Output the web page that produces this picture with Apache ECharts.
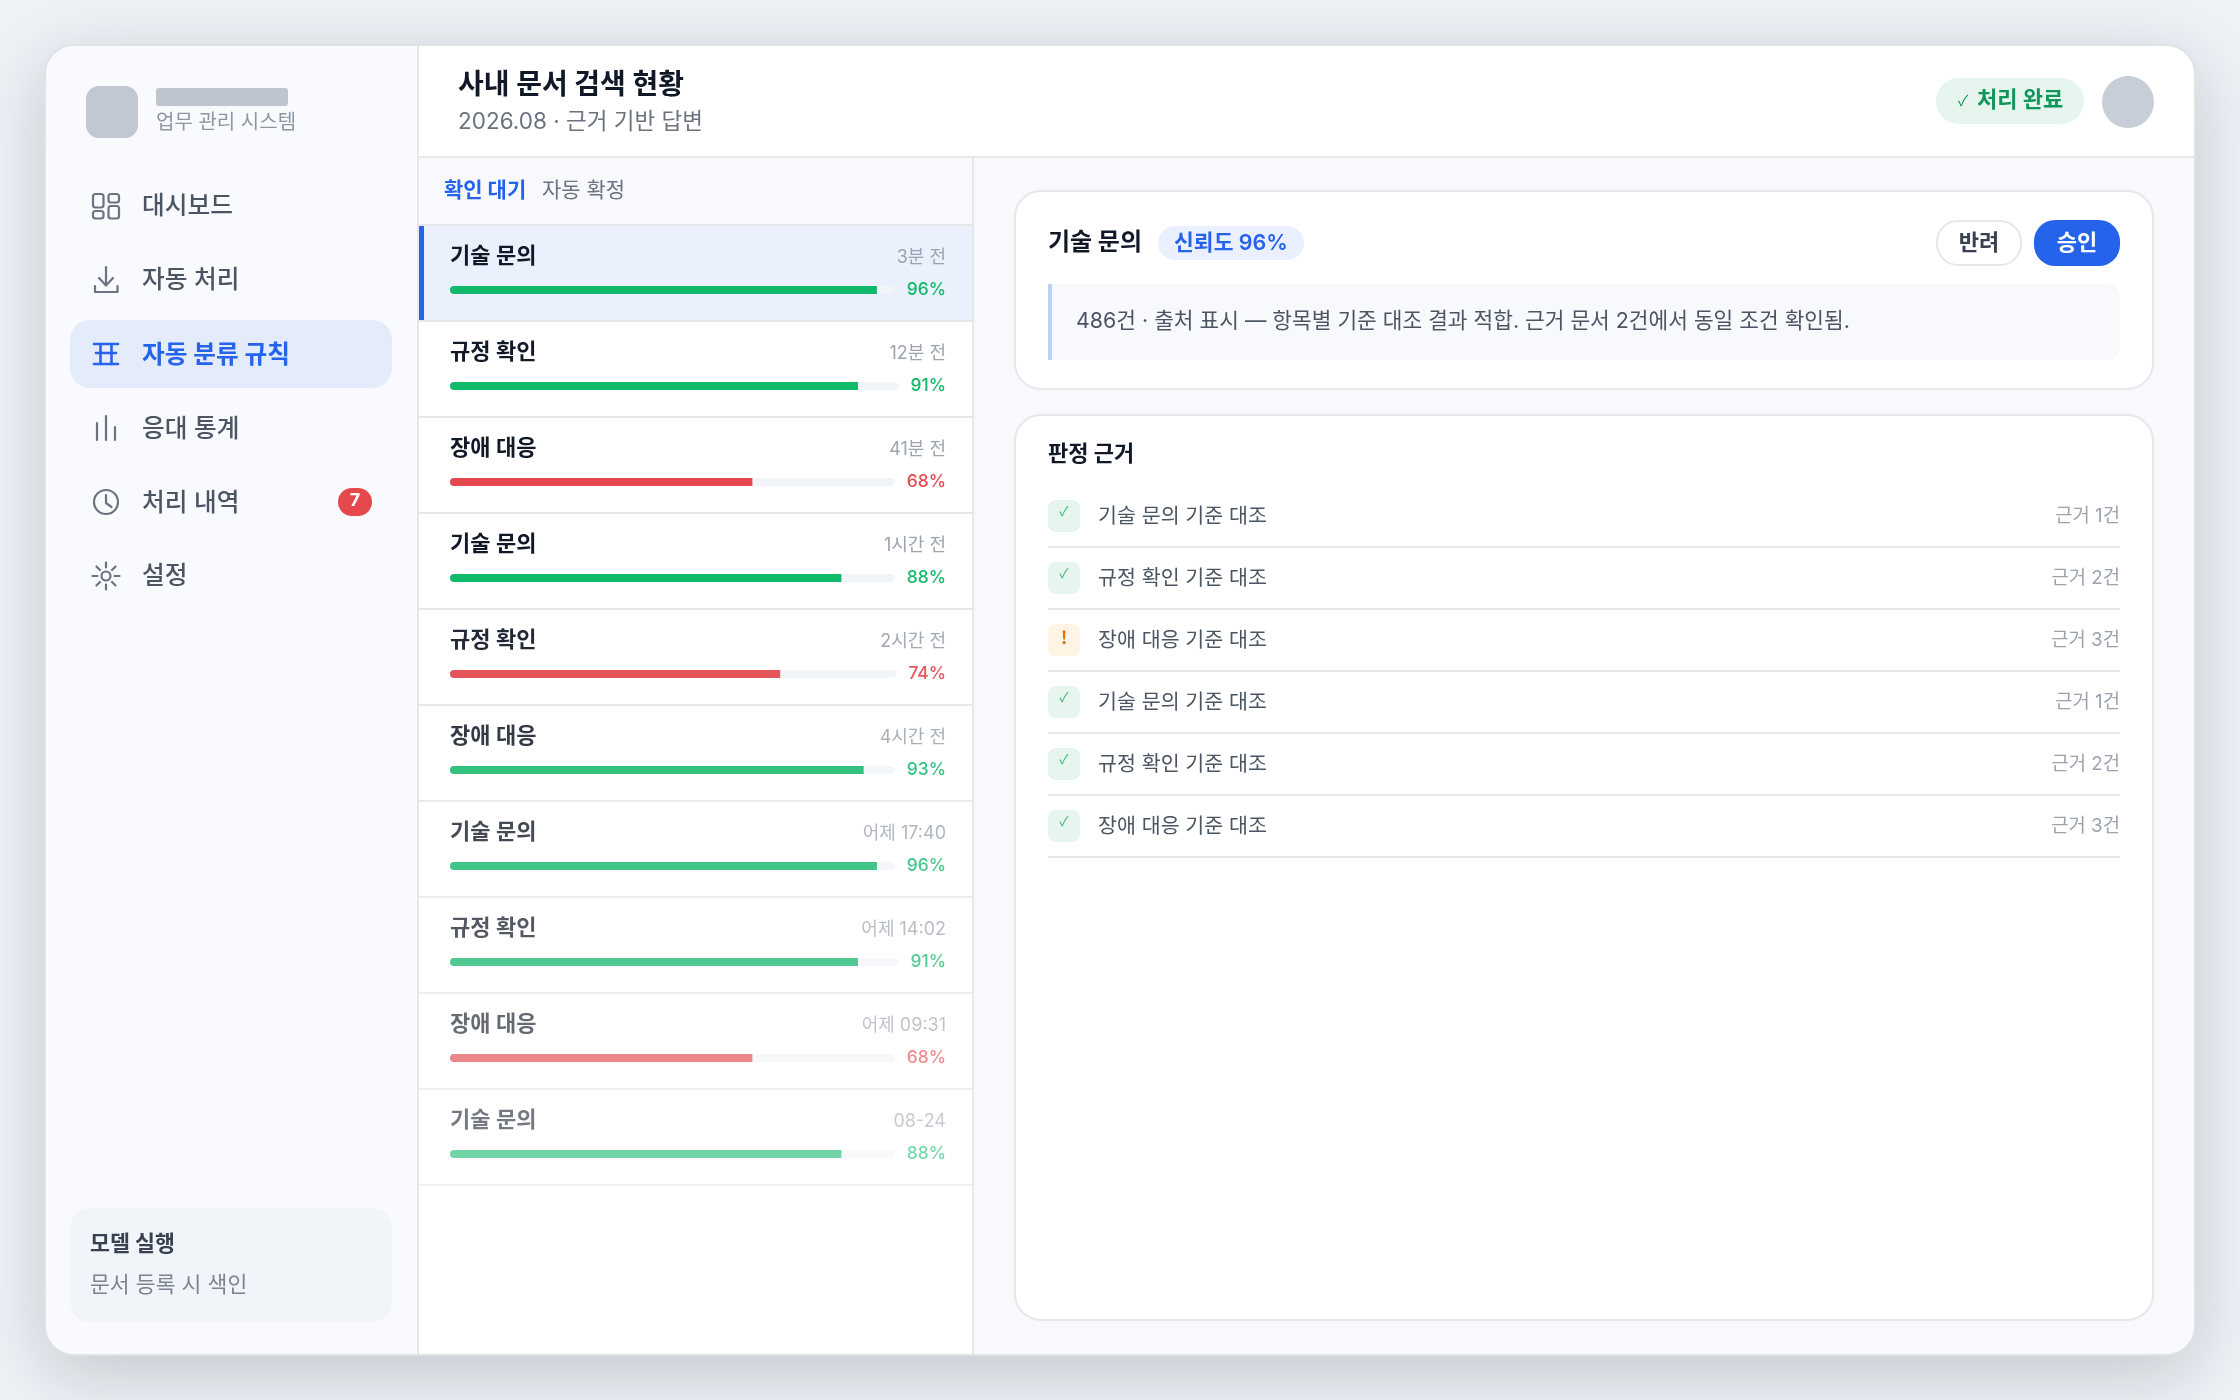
<!DOCTYPE html>
<html lang="ko">
<head>
<meta charset="utf-8">
<title>사내 문서 검색 현황</title>
<script src="https://cdn.jsdelivr.net/npm/echarts@6/dist/echarts.min.js"></script>
<style>
	html, body { margin: 0; padding: 0; background: #eef1f6; }
	#main { width: 2240px; height: 1400px; }
</style>
</head>
<body>
<div id="main"></div>
<script>
var navLabels = ['대시보드', '자동 처리', '자동 분류 규칙', '응대 통계', '처리 내역', '설정']
var rowTitles = ['기술 문의', '규정 확인', '장애 대응', '기술 문의', '규정 확인', '장애 대응', '기술 문의', '규정 확인', '장애 대응', '기술 문의']
var rowTimes = ['3분 전', '12분 전', '41분 전', '1시간 전', '2시간 전', '4시간 전', '어제 17:40', '어제 14:02', '어제 09:31', '08-24']
var rowScores = [96, 91, 68, 88, 74, 93, 96, 91, 68, 88]
var rowLevels = ['ok', 'ok', 'bad', 'ok', 'bad', 'ok', 'ok', 'ok', 'bad', 'ok']
var checkLabels = ['기술 문의 기준 대조', '규정 확인 기준 대조', '장애 대응 기준 대조', '기술 문의 기준 대조', '규정 확인 기준 대조', '장애 대응 기준 대조']
var checkCounts = ['근거 1건', '근거 2건', '근거 3건', '근거 1건', '근거 2건', '근거 3건']
var checkMarks = ['✓', '✓', '!', '✓', '✓', '✓']

var FONT = 'Inter, "Noto Sans CJK KR", sans-serif'
var FONT_KO = '"Noto Sans CJK KR", sans-serif'
var BLUE = '#2563eb', GREEN = '#10b96a', RED = '#e5484d', LINE = '#e5e7eb'
var NAV_GREY = '#6b7280'

var g = []

function box(x, y, w, h, fill, r, extra) {
	g.push({
		type: 'rect', silent: true,
		shape: { x: x, y: y, width: w, height: h, r: r || 0 },
		style: Object.assign({ fill: fill }, extra || {})
	})
}
function label(x, y, str, size, color, weight, align, opacity, family) {
	g.push({
		type: 'text', silent: true, x: x, y: y,
		style: {
			text: str, fontFamily: family || FONT, fontSize: size, fontWeight: weight || 400,
			fill: color, align: align || 'left', verticalAlign: 'middle',
			opacity: opacity === undefined ? 1 : opacity
		}
	})
}
function stroke(points, color, width) {
	g.push({
		type: 'polyline', silent: true,
		shape: { points: points },
		style: { fill: null, stroke: color, lineWidth: width || 2.2, lineCap: 'round', lineJoin: 'round' }
	})
}
function outline(x, y, w, h, r, color, width) {
	g.push({
		type: 'rect', silent: true,
		shape: { x: x, y: y, width: w, height: h, r: r },
		style: { fill: null, stroke: color, lineWidth: width || 2.2 }
	})
}
function circle(cx, cy, r, color) {
	g.push({
		type: 'circle', silent: true,
		shape: { cx: cx, cy: cy, r: r },
		style: { fill: null, stroke: color, lineWidth: 2.2 }
	})
}

// 바깥 카드
box(46, 46, 2148, 1308, '#ffffff', 28, { shadowBlur: 70, shadowOffsetY: 18, shadowColor: 'rgba(17,24,39,0.2)' })
outline(45, 45, 2150, 1310, 29, '#dfe3e8', 2)

// 사이드바
box(46, 46, 371, 1308, '#f8fafe', [28, 0, 0, 28])
box(417, 46, 2, 1308, LINE)
box(86, 86, 52, 52, '#c2c8d2', 13)
box(156, 88, 132, 18, '#bfc5cf', 3)
label(156, 123, '업무 관리 시스템', 20, '#8e96a3')

box(70, 320, 322, 68, '#e4ebfa', 20)
var navY = [206.4, 280.4, 355.4, 429.4, 503.4, 576.4]
navLabels.forEach(function (name, i) {
	var active = i === 2
	label(142, navY[i], name, 24.7, active ? BLUE : '#4b5563', active ? 700 : 500)
})

// 내비 아이콘
outline(93, 194, 10.5, 13.5, 2.5, NAV_GREY)
outline(108.5, 194, 10.5, 8.5, 2.5, NAV_GREY)
outline(93, 211, 10.5, 7.5, 2.5, NAV_GREY)
outline(108.5, 206, 10.5, 12.5, 2.5, NAV_GREY)

stroke([[106, 267], [106, 285]], NAV_GREY)
stroke([[99, 278], [106, 285.5], [113, 278]], NAV_GREY)
stroke([[95, 286], [95, 292], [117.5, 292], [117.5, 286]], NAV_GREY)

stroke([[94, 344], [118, 344]], BLUE, 2.6)
stroke([[96, 353], [116, 353]], BLUE, 2.6)
stroke([[94, 364], [118, 364]], BLUE, 2.6)
stroke([[100.5, 344], [100.5, 364]], BLUE, 2.6)
stroke([[111.5, 344], [111.5, 364]], BLUE, 2.6)

stroke([[97, 423], [97, 440]], NAV_GREY)
stroke([[106, 416], [106, 440]], NAV_GREY)
stroke([[115, 427], [115, 440]], NAV_GREY)

circle(106, 502, 12, NAV_GREY)
stroke([[106, 495], [106, 503], [111.5, 507]], NAV_GREY)

circle(106, 576, 4.5, NAV_GREY)
for (var a = 0; a < 8; a++) {
	var t = a * Math.PI / 4
	stroke([[106 + 8.5 * Math.cos(t), 576 + 8.5 * Math.sin(t)], [106 + 13.5 * Math.cos(t), 576 + 13.5 * Math.sin(t)]], NAV_GREY)
}

box(338, 488, 34, 28, RED, 14)
label(355, 501, '7', 18, '#ffffff', 700, 'center')

box(70, 1208, 322, 114, '#f1f4f9', 20)
label(90, 1244, '모델 실행', 21.7, '#374151', 700)
label(90, 1285, '문서 등록 시 색인', 21.6, '#7c8491')

// 헤더
box(419, 46, 1775, 111, '#ffffff', [0, 28, 0, 0])
box(419, 156, 1775, 2, LINE)
label(458, 85.4, '사내 문서 검색 현황', 28, '#111827', 700)
label(458, 122.7, '2026.08 · 근거 기반 답변', 22.5, NAV_GREY)
box(1936, 78, 148, 46, '#e6f5ee', 23)
label(1958, 100, '✓', 15, '#12955a', 400, 'left', 1, FONT_KO)
label(1977, 100, '처리 완료', 22, '#12955a', 700)
g.push({ type: 'circle', silent: true, shape: { cx: 2128, cy: 102, r: 26 }, style: { fill: '#c8ced8' } })

// 목록 패널
box(419, 158, 553, 66, '#f8f9fd')
box(419, 224, 553, 2, LINE)
box(972, 158, 2, 1196, LINE)
label(444, 190.6, '확인 대기', 21, BLUE, 700)
label(542, 190.6, '자동 확정', 21, NAV_GREY)

box(419, 226, 553, 94, '#eaf0fc')
box(419, 226, 5, 96, BLUE)

// 행 투명도: 네 번째 행부터 아래로 갈수록 옅어짐
function rowOpacity(i) {
	return Math.min(1, 1 - 0.07 * (i - 3))
}

var measure = document.createElement('canvas').getContext('2d')
measure.font = '500 17px ' + FONT

var grids = [], xAxes = [], yAxes = [], series = []
rowTitles.forEach(function (title, i) {
	var top = 226 + 96 * i
	var op = rowOpacity(i)
	var color = rowLevels[i] === 'bad' ? RED : GREEN
	var pct = rowScores[i] + '%'
	var trackWidth = 946 - 13 - measure.measureText(pct).width - 450

	g.push({ type: 'rect', silent: true, shape: { x: 419, y: top + 94, width: 553, height: 2 }, style: { fill: LINE, opacity: op } })
	label(450, top + 30, title, 22, '#111827', 600, 'left', op)
	label(946, top + 31.7, rowTimes[i], 18, '#9ca3af', 400, 'right', op)
	label(946, top + 64, pct, 17.4, color, 500, 'right', op)

	grids.push({ left: 450, top: top + 60, width: trackWidth, height: 8 })
	xAxes.push({ type: 'value', gridIndex: i, min: 0, max: 100, show: false })
	yAxes.push({ type: 'category', gridIndex: i, data: [title], show: false })
	series.push({
		type: 'bar', xAxisIndex: i, yAxisIndex: i, barWidth: 8,
		data: [rowScores[i]], silent: true,
		itemStyle: { color: color, opacity: op, borderRadius: [4, 0, 0, 4] },
		showBackground: true,
		backgroundStyle: { color: '#f1f4f8', opacity: op, borderRadius: 4 }
	})
})

// 상세 패널
box(974, 158, 1220, 1196, '#f8f9fd', [0, 0, 28, 0])
g.push({
	type: 'rect', silent: true,
	shape: { x: 1015, y: 191, width: 1138, height: 198, r: 26 },
	style: { fill: '#ffffff', stroke: LINE, lineWidth: 2 }
})
label(1048, 242.6, '기술 문의', 24, '#111827', 700)
box(1158, 226, 146, 34, '#eaf0fd', 17)
label(1231, 243.6, '신뢰도 96%', 21.5, BLUE, 600, 'center')
g.push({
	type: 'rect', silent: true,
	shape: { x: 1937, y: 221, width: 84, height: 44, r: 21 },
	style: { fill: '#ffffff', stroke: LINE, lineWidth: 2 }
})
label(1979, 243, '반려', 22, '#374151', 700, 'center')
box(2034, 220, 86, 46, BLUE, 21)
label(2077, 243, '승인', 22, '#ffffff', 700, 'center')
box(1048, 284, 1072, 76, '#f8f9fd', [0, 12, 12, 0])
box(1048, 284, 4, 76, '#bfd0f5')
label(1076, 322, '486건 · 출처 표시 — 항목별 기준 대조 결과 적합. 근거 문서 2건에서 동일 조건 확인됨.', 21.4, '#4b5563')

g.push({
	type: 'rect', silent: true,
	shape: { x: 1015, y: 415, width: 1138, height: 905, r: 26 },
	style: { fill: '#ffffff', stroke: LINE, lineWidth: 2 }
})
label(1048, 454.6, '판정 근거', 22, '#111827', 700)

checkLabels.forEach(function (name, i) {
	var y = 516 + 62 * i
	var warn = checkMarks[i] === '!'
	box(1048, y - 16, 32, 32, warn ? '#fff3e4' : '#e6f5ee', 8)
	label(1064, warn ? y - 3 : y - 5, checkMarks[i], warn ? 18 : 13, warn ? '#d97706' : '#2fb574', warn ? 700 : 400, 'center', 1, FONT_KO)
	label(1098, y + 0.4, name, 20.6, '#4b5563')
	label(2120, y + 0.7, checkCounts[i], 18.8, '#9ca3af', 400, 'right')
	box(1048, y + 30, 1072, 2, LINE)
})

var myChart = echarts.init(document.getElementById('main'), null, { width: 2240, height: 1400 })
myChart.setOption({
	animation: false,
	backgroundColor: '#eef1f6',
	tooltip: { show: false },
	grid: grids,
	xAxis: xAxes,
	yAxis: yAxes,
	series: series,
	graphic: { elements: g }
})
</script>
</body>
</html>
